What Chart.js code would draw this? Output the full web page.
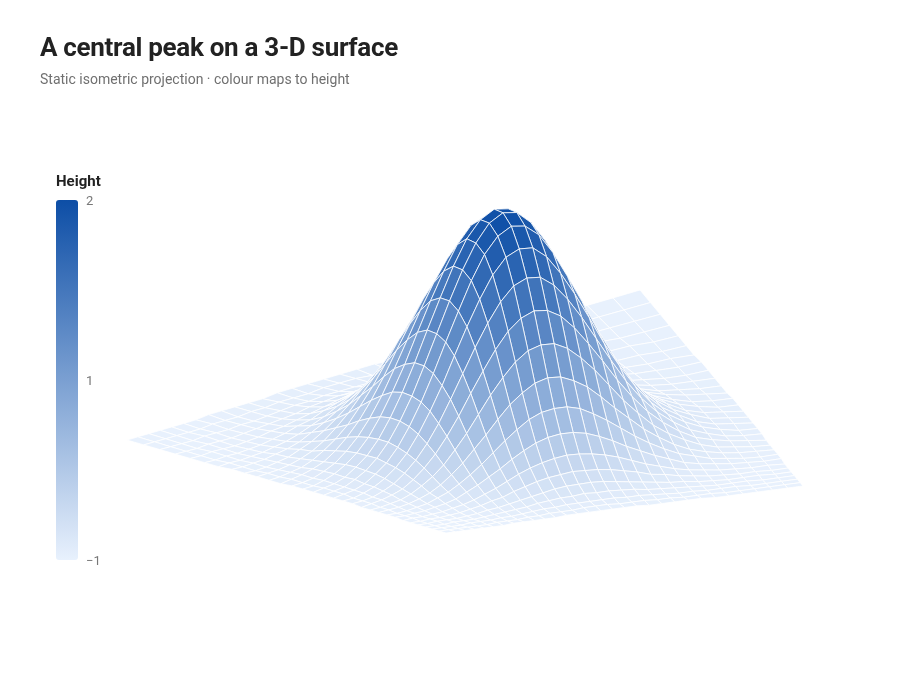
<!DOCTYPE html>
<html>
<head>
<meta charset="utf-8">
<title>A central peak on a 3-D surface</title>
<script src="https://cdn.jsdelivr.net/npm/chart.js@4/dist/chart.umd.min.js"></script>
<style>
    html, body { margin: 0; padding: 0; background: #fff; }
    body { width: 900px; height: 680px; position: relative; overflow: hidden; font-family: Roboto, sans-serif; }
    #surface { position: absolute; left: 0; top: 0; }
    h1 { position: absolute; left: 40px; top: 32px; margin: 0; font-size: 26px; line-height: 30px; font-weight: 700; letter-spacing: -0.3px; color: #222; }
    #sub { position: absolute; left: 40px; top: 70px; font-size: 14px; line-height: 18px; color: #707070; }
    #legendTitle { position: absolute; left: 56px; top: 172px; font-size: 15px; line-height: 18px; font-weight: 700; color: #222; }
    #legendBar { position: absolute; left: 56px; top: 200px; width: 22px; height: 360px; border-radius: 3px; }
    .tick { position: absolute; left: 86px; font-size: 13px; line-height: 14px; color: #777; }
</style>
</head>
<body>
<canvas id="surface" width="900" height="680" style="width:900px;height:680px"></canvas>
<h1>A central peak on a 3-D surface</h1>
<div id="sub">Static isometric projection · colour maps to height</div>
<div id="legendTitle">Height</div>
<div id="legendBar"></div>
<script>
// one quadrant of the surface, row 0 / column 0 run through the peak
const heightQuadrant = [
    [2.00, 1.96, 1.84, 1.66, 1.44, 1.20, .96, .73, .54, .38, .26, .17, .11, .06, .04, .02],
    [1.96, 1.92, 1.81, 1.63, 1.41, 1.18, .94, .72, .53, .37, .25, .17, .10, .06, .04, .02],
    [1.84, 1.81, 1.70, 1.53, 1.33, 1.11, .88, .68, .50, .35, .24, .16, .10, .06, .03, .02],
    [1.66, 1.63, 1.53, 1.38, 1.20, 1.00, .80, .61, .45, .32, .22, .14, .09, .05, .03, .02],
    [1.44, 1.41, 1.33, 1.20, 1.04, .87, .69, .53, .39, .28, .19, .12, .08, .05, .03, .01],
    [1.20, 1.18, 1.11, 1.00, .87, .72, .57, .44, .32, .23, .16, .10, .06, .04, .02, .01],
    [.96, .94, .88, .80, .69, .57, .46, .35, .26, .18, .12, .08, .05, .03, .02, .01],
    [.73, .72, .68, .61, .53, .44, .35, .27, .20, .14, .10, .06, .04, .02, .01, .01],
    [.54, .53, .50, .45, .39, .32, .26, .20, .15, .10, .07, .05, .03, .02, .01, .01],
    [.38, .37, .35, .32, .28, .23, .18, .14, .10, .07, .05, .03, .02, .01, .01, 0],
    [.26, .25, .24, .22, .19, .16, .12, .10, .07, .05, .03, .02, .01, .01, 0, 0],
    [.17, .17, .16, .14, .12, .10, .08, .06, .05, .03, .02, .01, .01, .01, 0, 0],
    [.11, .10, .10, .09, .08, .06, .05, .04, .03, .02, .01, .01, .01, 0, 0, 0],
    [.06, .06, .06, .05, .05, .04, .03, .02, .02, .01, .01, .01, 0, 0, 0, 0],
    [.04, .04, .03, .03, .03, .02, .02, .01, .01, .01, 0, 0, 0, 0, 0, 0],
    [.02, .02, .02, .02, .01, .01, .01, .01, .01, 0, 0, 0, 0, 0, 0, 0]
];
const maxHeight = 2;
const tickLabels = ["2", "1", "−1"];
const lowColor = [232, 241, 253];
const highColor = [13, 78, 166];

// where the floor's corners land, and the line the perspective converges on
const cornerBack = [640, 290];
const cornerLeft = [127, 440];
const cornerFront = [446, 533];
const cornerRight = [803, 486];
const horizonY = 685;
const heightScale = 0.575;
const heightLean = 1.5;

const half = heightQuadrant.length - 1;
const cells = half * 2;

function heightAt(i, j) {
    return heightQuadrant[Math.abs(i - half)][Math.abs(j - half)];
}

function colorFor(z) {
    const t = Math.min(1, z / maxHeight);
    const c = lowColor.map((low, k) => Math.round(low + (highColor[k] - low) * t));
    return "rgb(" + c.join(",") + ")";
}

// unit square -> floor plane
const floorMap = (function () {
    const [x0, y0] = cornerBack, [x1, y1] = cornerLeft, [x2, y2] = cornerFront, [x3, y3] = cornerRight;
    const dx1 = x1 - x2, dx2 = x3 - x2, sx = x0 - x1 + x2 - x3;
    const dy1 = y1 - y2, dy2 = y3 - y2, sy = y0 - y1 + y2 - y3;
    const den = dx1 * dy2 - dx2 * dy1;
    const g = (sx * dy2 - dx2 * sy) / den;
    const h = (dx1 * sy - sx * dy1) / den;
    return function (u, v) {
        const w = g * u + h * v + 1;
        return [
            ((x1 - x0 + g * x1) * u + (x3 - x0 + h * x3) * v + x0) / w,
            ((y1 - y0 + g * y1) * u + (y3 - y0 + h * y3) * v + y0) / w
        ];
    };
})();

function project(i, j) {
    const [x, y] = floorMap(i / cells, j / cells);
    const z = heightAt(i, j);
    return { x: x + z * heightLean, y: y - z * heightScale * (horizonY - y) };
}

// chart.js paints the first dataset last, so the front cell goes first
const datasets = [];
for (let i = cells - 1; i >= 0; i--) {
    for (let j = cells - 1; j >= 0; j--) {
        const mean = (heightAt(i, j) + heightAt(i + 1, j) + heightAt(i, j + 1) + heightAt(i + 1, j + 1)) / 4;
        const a = project(i, j);
        datasets.push({
            data: [a, project(i + 1, j), project(i + 1, j + 1), project(i, j + 1), a],
            showLine: true,
            fill: "shape",
            backgroundColor: colorFor(mean),
            borderColor: "rgba(255,255,255,0.8)",
            borderWidth: 1,
            pointRadius: 0,
            tension: 0
        });
    }
}

new Chart(document.getElementById("surface"), {
    type: "scatter",
    data: { datasets: datasets },
    options: {
        responsive: false,
        animation: false,
        events: [],
        layout: { padding: 0 },
        plugins: { legend: { display: false }, tooltip: { enabled: false } },
        scales: {
            x: { type: "linear", display: false, min: 0, max: 900 },
            y: { type: "linear", display: false, min: 0, max: 680, reverse: true }
        }
    }
});

// colour legend
document.getElementById("legendBar").style.background =
    "linear-gradient(to top, rgb(" + lowColor.join(",") + "), rgb(" + highColor.join(",") + "))";
tickLabels.forEach((label, k) => {
    const el = document.createElement("div");
    el.className = "tick";
    el.textContent = label;
    el.style.top = (194 + k * 180) + "px";
    document.body.appendChild(el);
});
</script>
</body>
</html>
